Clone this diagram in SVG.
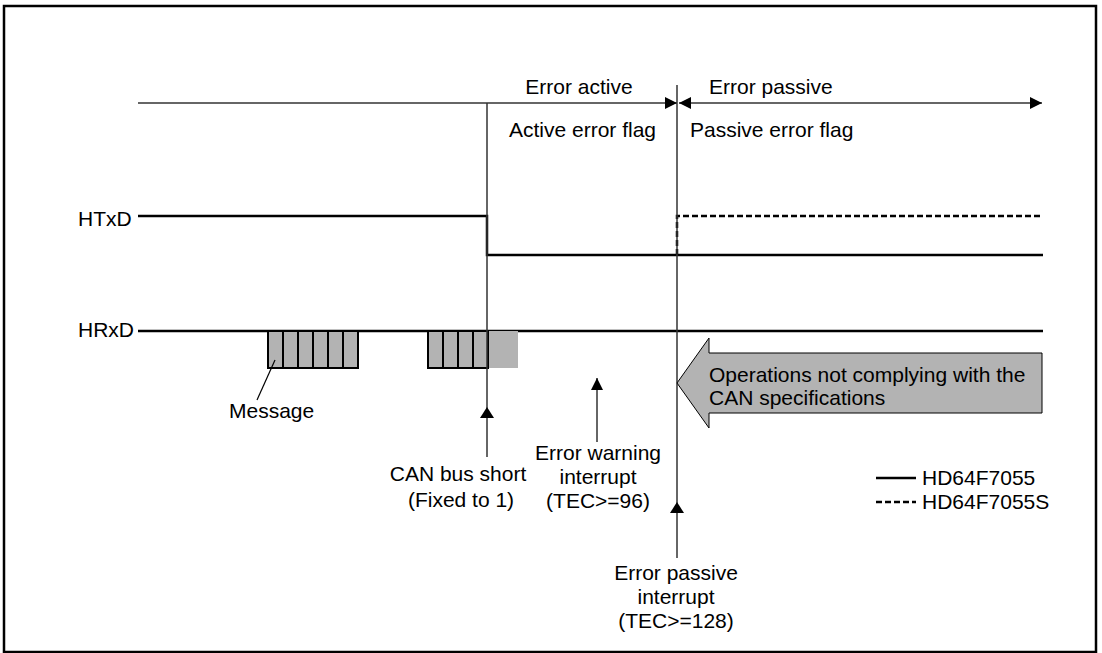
<svg xmlns="http://www.w3.org/2000/svg" width="1102" height="653" viewBox="0 0 1102 653">
<defs>
<style>
text{font-family:"Liberation Sans",Arial,sans-serif;font-size:21px;fill:#000}
.mid{text-anchor:middle}
.axis{stroke:#333;stroke-width:1.5;fill:none}
.sig{stroke:#000;stroke-width:2.5;fill:none}
.dash{stroke:#000;stroke-width:2.5;fill:none;stroke-dasharray:6 3}
.cell{fill:#b3b3b3;stroke:#000;stroke-width:2}
.thin{stroke:#333;stroke-width:1.5;fill:none}
</style>
<marker id="ah" viewBox="0 0 12 12" refX="12" refY="6" markerWidth="12" markerHeight="12" markerUnits="userSpaceOnUse" orient="auto-start-reverse">
<path d="M0,0 L12,6 L0,12 Z" fill="#000"/>
</marker>
</defs>
<rect x="4" y="6" width="1092" height="646" fill="#fff" stroke="#000" stroke-width="2.5"/>

<g id="timeaxis">
<line class="axis" x1="138" y1="103" x2="677" y2="103" marker-end="url(#ah)"/>
<line class="axis" x1="679" y1="103" x2="1042" y2="103" marker-start="url(#ah)" marker-end="url(#ah)"/>
<text class="mid" x="579" y="94">Error active</text>
<text x="709" y="94">Error passive</text>
<text x="509" y="137">Active error flag</text>
<text x="690" y="137">Passive error flag</text>
</g>

<g id="htxd">
<text x="78" y="226">HTxD</text>
<polyline class="sig" points="138,216 487,216 487,255 1043,255"/>
<polyline class="dash" points="677,255 677,216 1043,216"/>
</g>

<g id="hrxd">
<text x="78" y="337">HRxD</text>
<line class="sig" x1="138" y1="331" x2="1043" y2="331"/>
</g>

<g id="message1">
<rect class="cell" x="268" y="331" width="15" height="37"/>
<rect class="cell" x="283" y="331" width="15" height="37"/>
<rect class="cell" x="298" y="331" width="15" height="37"/>
<rect class="cell" x="313" y="331" width="15" height="37"/>
<rect class="cell" x="328" y="331" width="15" height="37"/>
<rect class="cell" x="343" y="331" width="15" height="37"/>
</g>
<g id="message2">
<rect x="488" y="331" width="30" height="37" fill="#b3b3b3"/>
<rect class="cell" x="428" y="331" width="15" height="37"/>
<rect class="cell" x="443" y="331" width="15" height="37"/>
<rect class="cell" x="458" y="331" width="15" height="37"/>
<rect class="cell" x="473" y="331" width="15" height="37"/>
</g>
<g id="message-label">
<line x1="275" y1="360" x2="257" y2="400" stroke="#000" stroke-width="1.2"/>
<text x="229" y="418">Message</text>
</g>

<g id="connectors">
<line class="thin" x1="487" y1="103" x2="487" y2="457"/>
<line class="thin" x1="677" y1="85" x2="677" y2="558"/>
<line class="thin" x1="597" y1="442" x2="597" y2="378" marker-end="url(#ah)"/>
<path d="M487,407 L480,418 L494,418 Z" fill="#000"/>
<path d="M677,502 L670,513 L684,513 Z" fill="#000"/>
</g>

<g id="canbus">
<text class="mid" x="458" y="481">CAN bus short</text>
<text class="mid" x="461" y="507">(Fixed to 1)</text>
</g>

<g id="errwarn">
<text class="mid" x="598" y="460">Error warning</text>
<text class="mid" x="598" y="484">interrupt</text>
<text class="mid" x="598" y="508">(TEC&gt;=96)</text>
</g>

<g id="errpass">
<text class="mid" x="676" y="580">Error passive</text>
<text class="mid" x="676" y="604">interrupt</text>
<text class="mid" x="676" y="628">(TEC&gt;=128)</text>
</g>

<g id="bigarrow">
<path d="M677,383 L709,338 L709,353 L1042,353 L1042,413 L709,413 L709,428 Z" fill="#b3b3b3" stroke="#000" stroke-width="1"/>
<text x="709" y="382">Operations not complying with the</text>
<text x="709" y="405">CAN specifications</text>
</g>

<g id="legend">
<line x1="876" y1="478" x2="916" y2="478" stroke="#000" stroke-width="2.5"/>
<text x="922" y="485">HD64F7055</text>
<line class="dash" x1="876" y1="502" x2="916" y2="502" stroke-dasharray="7 4"/>
<text x="922" y="509">HD64F7055S</text>
</g>
</svg>
